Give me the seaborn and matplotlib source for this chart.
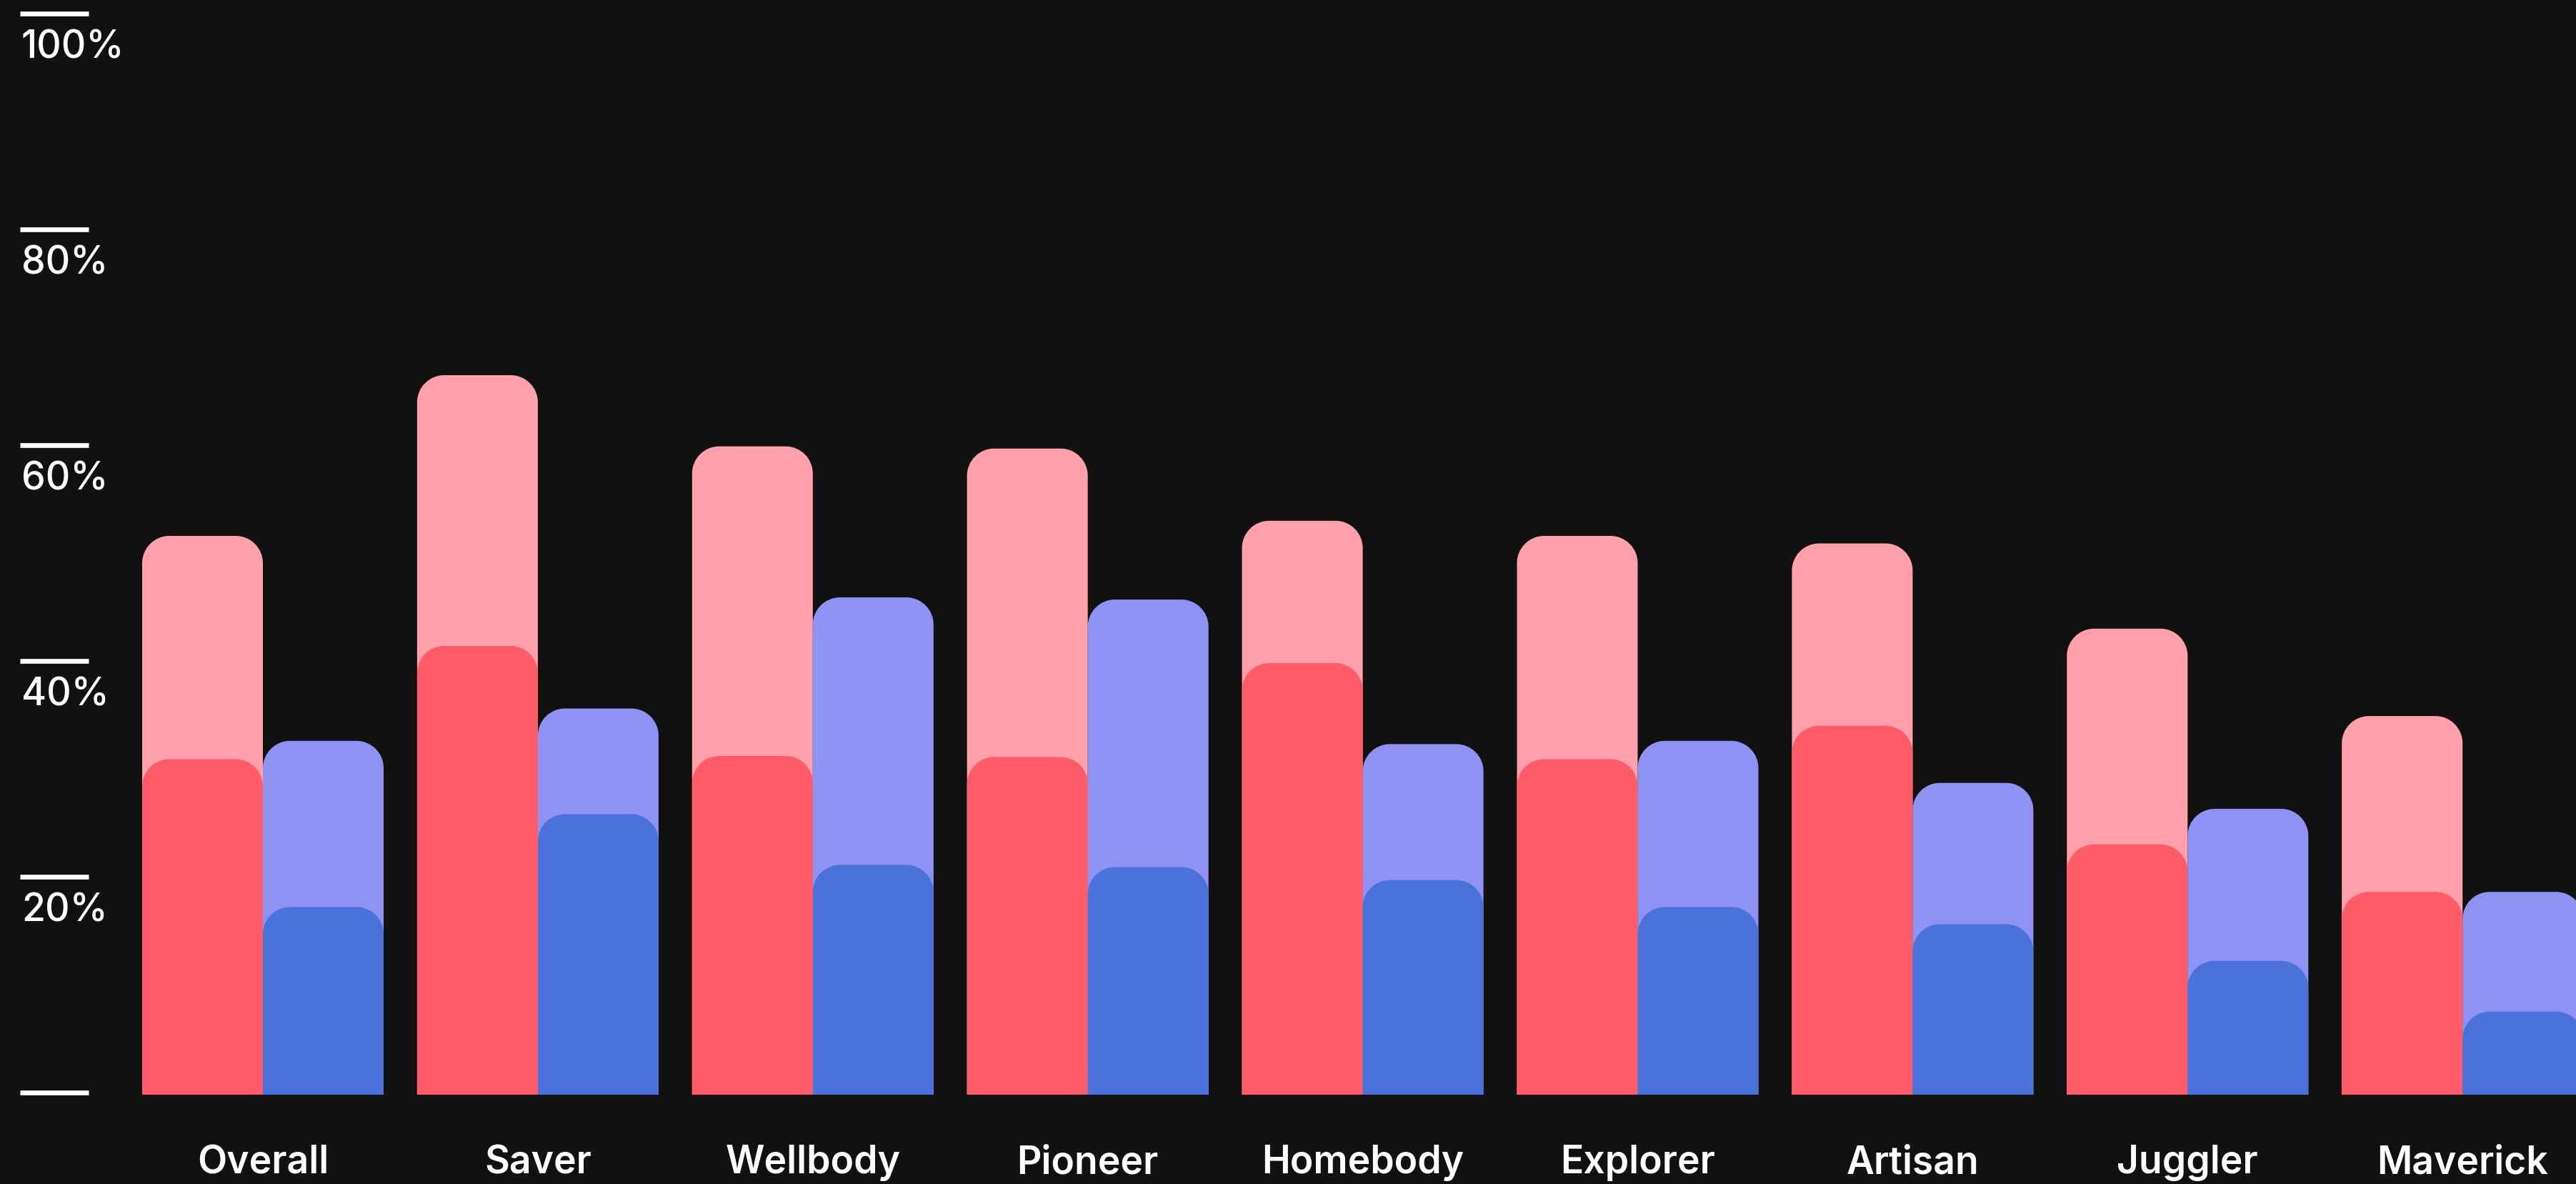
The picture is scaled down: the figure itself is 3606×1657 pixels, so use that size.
import numpy as np
import pandas as pd
import matplotlib
matplotlib.use("Agg")
import matplotlib.pyplot as plt
from matplotlib.path import Path
from matplotlib.patches import PathPatch
import seaborn as sns

# ---- data -------------------------------------------------------------
segments = ["Overall", "Saver", "Wellbody", "Pioneer", "Homebody",
            "Explorer", "Artisan", "Juggler", "Maverick"]
groups = ["pink", "blue"]

pink_total = [51.8, 66.7, 60.1, 59.9, 53.2, 51.8, 51.1, 43.2, 35.1]
pink_core = [31.1, 41.6, 31.4, 31.3, 40.0, 31.1, 34.2, 23.2, 18.8]
blue_total = [32.8, 35.8, 46.1, 45.9, 32.5, 32.8, 28.9, 26.5, 18.8]
blue_core = [17.4, 26.0, 21.3, 21.1, 19.9, 17.4, 15.8, 12.4, 7.7]

y_ticks = [0, 20, 40, 60, 80, 100]
y_tick_labels = ["", "20%", "40%", "60%", "80%", "100%"]

# ---- style ------------------------------------------------------------
BG = "#111111"
PINK_LIGHT = "#FFA0AB"
PINK_DARK = "#FF5B69"
BLUE_LIGHT = "#8E92F2"
BLUE_DARK = "#4A72DA"

sns.set_theme(style="dark", rc={
    "axes.facecolor": BG,
    "figure.facecolor": BG,
    "savefig.facecolor": BG,
})
plt.rcParams["font.family"] = ["Inter", "DejaVu Sans"]

W_PX, H_PX, DPI = 3606, 1657, 100
fig = plt.figure(figsize=(W_PX / DPI, H_PX / DPI), dpi=DPI)
ax = fig.add_axes([0, 0, 1, 1])

# pixel geometry of the plotting area
x0_px, step_px = 368.0, 384.9          # first category centre, category spacing
y0_px, unit_px = 1532.0, 15.1          # zero line (from top), pixels per percent
pair_width = 2 * 169.0 / step_px
tick_thick_px = 6.7

totals = pd.DataFrame({
    "segment": segments * 2,
    "group": ["pink"] * len(segments) + ["blue"] * len(segments),
    "value": pink_total + blue_total,
})
cores = pd.DataFrame({
    "segment": segments * 2,
    "group": ["pink"] * len(segments) + ["blue"] * len(segments),
    "value": pink_core + blue_core,
})

sns.barplot(data=totals, x="segment", y="value", hue="group", hue_order=groups,
            palette=[PINK_LIGHT, BLUE_LIGHT], width=pair_width, gap=0,
            saturation=1, errorbar=None, legend=False, ax=ax)
n_first = len(ax.patches)
sns.barplot(data=cores, x="segment", y="value", hue="group", hue_order=groups,
            palette=[PINK_DARK, BLUE_DARK], width=pair_width, gap=0,
            saturation=1, errorbar=None, legend=False, ax=ax)

ax.set_xlim(-x0_px / step_px, (W_PX - x0_px) / step_px)
ax.set_ylim(-(H_PX - y0_px) / unit_px, 100 + 22.3 / unit_px)

# rounded top corners with a fixed pixel radius
radius_px = 38.0
rx = radius_px / step_px
ry = radius_px / unit_px
k = 0.5523


def rounded_top(x, w, h):
    x1 = x + w
    verts = [
        (x, 0), (x, h - ry),
        (x, h - ry + k * ry), (x + rx - k * rx, h), (x + rx, h),
        (x1 - rx, h),
        (x1 - rx + k * rx, h), (x1, h - ry + k * ry), (x1, h - ry),
        (x1, 0), (x, 0),
    ]
    codes = [Path.MOVETO, Path.LINETO,
             Path.CURVE4, Path.CURVE4, Path.CURVE4,
             Path.LINETO,
             Path.CURVE4, Path.CURVE4, Path.CURVE4,
             Path.LINETO, Path.CLOSEPOLY]
    return Path(verts, codes)


bars = list(ax.patches)
for i, rect in enumerate(bars):
    x, w, h = rect.get_x(), rect.get_width(), rect.get_height()
    color = rect.get_facecolor()
    rect.remove()
    if h <= 0 or np.isnan(h):
        continue
    ax.add_patch(PathPatch(rounded_top(x, w, h), facecolor=color,
                           edgecolor="none", linewidth=0,
                           zorder=2 if i < n_first else 3))

# y scale: short white bars resting on each value, label underneath
yax = ax.get_yaxis_transform()
tick_centres = [v + 0.5 * tick_thick_px / unit_px for v in y_ticks]
ax.hlines(tick_centres, 28 / W_PX, 124 / W_PX, transform=yax, colors="white",
          linewidth=tick_thick_px * 72 / DPI, capstyle="butt", zorder=4)
for val, lab in zip(y_ticks, y_tick_labels):
    if lab:
        ax.text(30 / W_PX, val - 59.7 / unit_px, lab, transform=yax,
                ha="left", va="baseline", color="white", fontsize=38.5,
                fontweight="medium", zorder=4)

# category labels
label_y = -(1642 - y0_px) / unit_px
for i, name in enumerate(segments):
    ax.text(i, label_y, name, ha="center", va="baseline", color="white",
            fontsize=38.5, fontweight="semibold", zorder=4)

ax.set_xticks([])
ax.set_yticks([])
ax.set_xlabel("")
ax.set_ylabel("")
for s in ax.spines.values():
    s.set_visible(False)
ax.grid(False)

fig.savefig("out.png", dpi=DPI, facecolor=BG)
